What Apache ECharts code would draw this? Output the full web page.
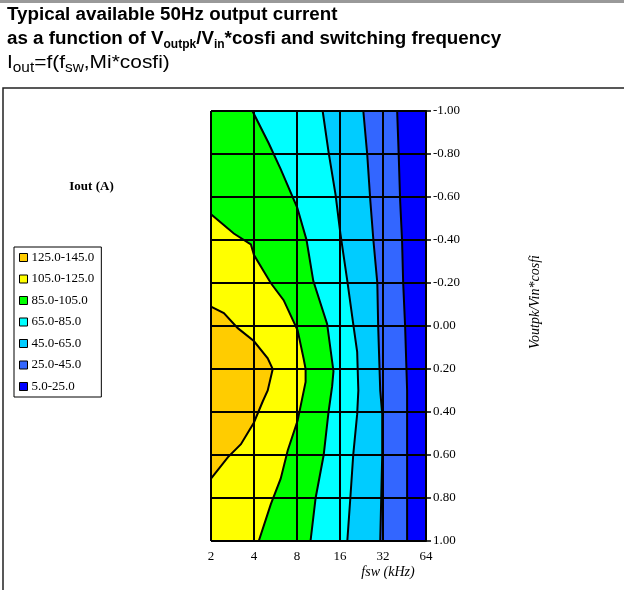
<!DOCTYPE html>
<html><head><meta charset="utf-8">
<script src="https://cdn.jsdelivr.net/npm/echarts@6/dist/echarts.min.js"></script>
<style>html,body{margin:0;padding:0;background:#fff}#c{width:624px;height:590px}</style>
</head><body><div id="c"></div>
<script>
// Axis ticks
const xTicks = [2, 4, 8, 16, 32, 64];          // fsw (kHz), log2 scale
const yMin = -1, yMax = 1, yStep = 0.2;        // Voutpk/Vin*cosfi

// Bands (Iout, A), lowest first
const bandNames  = ['5.0-25.0', '25.0-45.0', '45.0-65.0', '65.0-85.0', '85.0-105.0', '105.0-125.0', '125.0-145.0'];
const bandColors = ['#0000FF', '#3366FF', '#00CCFF', '#00FFFF', '#00FF00', '#FFFF00', '#FFCC00'];

// Contour lines: [fsw kHz, Voutpk/Vin*cosfi]
const contour25  = [[40.2,-1],[41.2,-0.8],[42.2,-0.58],[43.5,-0.4],[44.3,-0.2],[45.7,0],[47.2,0.3],[47.2,0.6],[47.2,1]];
const contour45  = [[23.3,-1],[24.8,-0.8],[26.1,-0.58],[27.4,-0.4],[29.2,-0.2],[29.6,0],[30.6,0.3],[31.6,0.41],[31.6,0.6],[31.1,0.8],[30.6,1]];
const contour65  = [[12.1,-1],[13.3,-0.81],[14.9,-0.61],[16.1,-0.43],[18.0,-0.21],[19.8,-0.01],[21.1,0.12],[21.5,0.3],[21.1,0.41],[19.8,0.6],[18.9,0.8],[18.0,1]];
const contour85  = [[3.9,-1],[5.07,-0.85],[6.15,-0.73],[8.04,-0.55],[9.33,-0.4],[10.4,-0.21],[13.0,-0.01],[14.4,0.21],[14.1,0.28],[13.3,0.4],[12.3,0.6],[10.8,0.8],[9.95,1]];
const contour105 = [[2,-0.52],[2.89,-0.43],[3.8,-0.38],[4.0,-0.33],[5.24,-0.2],[6.45,-0.12],[8.08,0.02],[8.89,0.15],[9.19,0.2],[9.19,0.26],[8.08,0.44],[6.88,0.58],[6.15,0.71],[5.24,0.83],[4.32,1]];
const contour125 = [[2,-0.09],[2.46,-0.06],[3.08,0.01],[3.99,0.07],[4.99,0.15],[5.41,0.2],[4.99,0.3],[4.61,0.35],[3.99,0.45],[3.24,0.55],[2.63,0.61],[2,0.71]];

const contours = [contour25, contour45, contour65, contour85, contour105, contour125];

const xMin = xTicks[0], xMax = xTicks[xTicks.length - 1];
function bandPolygon(k) {
  if (k === 0) return [[xMin, yMin], [xMax, yMin], [xMax, yMax], [xMin, yMax]];
  const c = contours[k - 1];
  return c.concat([[xMin, c[c.length - 1][1]], [xMin, c[0][1]]]);
}

const serif = 'Liberation Serif';
const sans = 'Liberation Sans';

const series = bandNames.map((name, k) => {
  const poly = bandPolygon(k);
  return {
    type: 'custom', name: name, coordinateSystem: 'cartesian2d', z: 2, silent: true,
    itemStyle: { color: bandColors[k] },
    data: [poly[0]],
    renderItem: function (params, api) {
      return { type: 'polygon', shape: { points: poly.map(p => api.coord(p)) }, style: { fill: bandColors[k] } };
    }
  };
});
series.push({
  type: 'custom', name: 'contours', coordinateSystem: 'cartesian2d', z: 3, silent: true,
  data: contours.map(c => c[0]),
  renderItem: function (params, api) {
    const c = contours[params.dataIndex];
    return { type: 'polyline', shape: { points: c.map(p => api.coord(p)) }, style: { stroke: '#000', lineWidth: 2, fill: null } };
  }
});

const chart = echarts.init(document.getElementById('c'), null, { renderer: 'canvas' });
chart.setOption({
  animation: false,
  backgroundColor: '#fff',
  grid: { left: 211, top: 111, width: 215, height: 430 },
  xAxis: {
    type: 'log', logBase: 2, min: xMin, max: xMax, z: 10,
    axisLine: { show: true, lineStyle: { color: '#000', width: 2 } },
    axisTick: { show: true, length: 5, lineStyle: { color: '#000', width: 2 } },
    splitLine: { show: true, lineStyle: { color: '#000', width: 2 } },
    axisLabel: { margin: 9, color: '#000', fontFamily: serif, fontSize: 13, formatter: v => String(Math.round(v)) }
  },
  yAxis: {
    type: 'value', inverse: true, position: 'right', min: yMin, max: yMax, interval: yStep, z: 10,
    axisLine: { show: true, lineStyle: { color: '#000', width: 2 } },
    axisTick: { show: true, length: 5, lineStyle: { color: '#000', width: 1.5 } },
    splitLine: { show: true, lineStyle: { color: '#000', width: 2 } },
    axisLabel: { margin: 7, color: '#000', fontFamily: serif, fontSize: 13,
      formatter: v => (Math.abs(v) < 1e-9 ? 0 : v).toFixed(2) }
  },
  legend: {
    data: bandNames.slice().reverse(),
    orient: 'vertical', left: 14, top: 247,
    itemWidth: 8, itemHeight: 8, itemGap: 8.5,
    padding: [4, 7, 4, 5],
    icon: 'rect',
    backgroundColor: '#fff', borderColor: '#000', borderWidth: 1, borderRadius: 0,
    itemStyle: { borderColor: '#000', borderWidth: 1 },
    textStyle: { color: '#000', fontFamily: serif, fontSize: 13, padding: [0, 0, 0, -1] },
    selectedMode: false
  },
  graphic: [
    { type: 'rect', shape: { x: 0, y: 0, width: 624, height: 3 }, style: { fill: '#999' }, silent: true },
    { type: 'rect', shape: { x: 3, y: 88, width: 640, height: 540 }, style: { fill: null, stroke: '#222', lineWidth: 1.5 }, silent: true },
    { type: 'text', x: 7, y: 15, style: { text: 'Typical available 50Hz output current', font: 'bold 18.8px ' + sans, fill: '#000', verticalAlign: 'middle' } },
    { type: 'text', x: 7, y: 39, style: {
        text: '{b|as a function of V}{s|outpk}{b|/V}{s|in}{b|*cosfi and switching frequency}',
        verticalAlign: 'middle', align: 'left',
        rich: {
          b: { fontFamily: sans, fontWeight: 'bold', fontSize: 18.8, lineHeight: 24, fill: '#000' },
          s: { fontFamily: sans, fontWeight: 'bold', fontSize: 12, lineHeight: 12, verticalAlign: 'bottom', fill: '#000' }
        } } },
    { type: 'text', x: 7, y: 63, scaleX: 1.1, style: {
        text: '{r|I}{s|out}{r|=f(f}{s|sw}{r|,Mi*cosfi)}',
        verticalAlign: 'middle', align: 'left',
        rich: {
          r: { fontFamily: sans, fontSize: 19, lineHeight: 24, fill: '#000' },
          s: { fontFamily: sans, fontSize: 14, lineHeight: 13, verticalAlign: 'bottom', fill: '#000' }
        } } },
    { type: 'text', x: 91.5, y: 187, style: { text: 'Iout (A)', font: 'bold 13px ' + serif, fill: '#000', align: 'center', verticalAlign: 'middle' } },
    { type: 'text', x: 388, y: 572, style: { text: 'fsw (kHz)', font: 'italic 14px ' + serif, fill: '#000', align: 'center', verticalAlign: 'middle' } },
    { type: 'text', x: 535, y: 302, rotation: Math.PI / 2, style: { text: 'Voutpk/Vin*cosfi', font: 'italic 14px ' + serif, fill: '#000', align: 'center', verticalAlign: 'middle' } }
  ],
  series: series
});
</script></body></html>
